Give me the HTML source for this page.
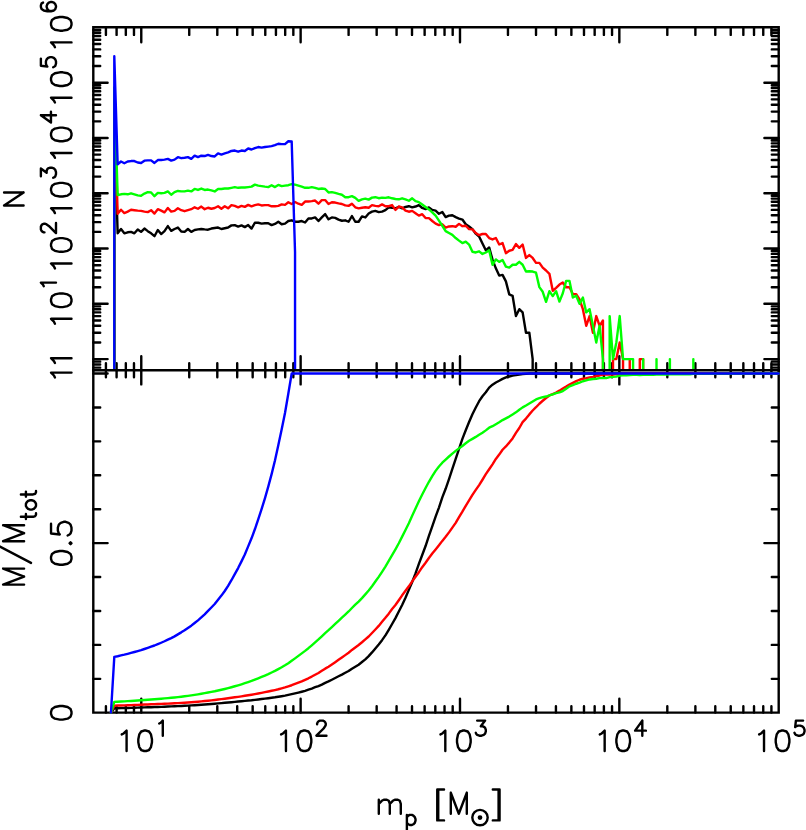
<!DOCTYPE html>
<html><head><meta charset="utf-8"><title>plot</title>
<style>html,body{margin:0;padding:0;background:#fff;font-family:"Liberation Sans",sans-serif}svg{display:block}</style></head>
<body>
<svg width="806" height="830" viewBox="0 0 806 830">
<rect width="806" height="830" fill="#fff"/>
<defs><clipPath id="ct"><rect x="93.30" y="27.30" width="685.40" height="341.70"/></clipPath>
<clipPath id="cb"><rect x="91.30" y="371.40" width="689.40" height="342.40"/></clipPath></defs>
<path fill="none" stroke="#000" stroke-width="2.4" stroke-linecap="square" d="M93.30 370.20 V712.60 H778.70 V370.20"/>
<path fill="none" stroke="#000" stroke-width="2.40" stroke-linecap="round" d="M105.92 712.60 V706.20 M116.59 712.60 V706.20 M125.83 712.60 V706.20 M133.98 712.60 V706.20 M141.27 712.60 V698.70 M189.24 712.60 V706.20 M217.30 712.60 V706.20 M237.21 712.60 V706.20 M252.66 712.60 V706.20 M265.28 712.60 V706.20 M275.94 712.60 V706.20 M285.19 712.60 V706.20 M293.34 712.60 V706.20 M300.63 712.60 V698.70 M348.60 712.60 V706.20 M376.66 712.60 V706.20 M396.57 712.60 V706.20 M412.01 712.60 V706.20 M424.63 712.60 V706.20 M435.30 712.60 V706.20 M444.54 712.60 V706.20 M452.69 712.60 V706.20 M459.99 712.60 V698.70 M507.96 712.60 V706.20 M536.02 712.60 V706.20 M555.93 712.60 V706.20 M571.37 712.60 V706.20 M583.99 712.60 V706.20 M594.66 712.60 V706.20 M603.90 712.60 V706.20 M612.05 712.60 V706.20 M619.34 712.60 V698.70 M667.31 712.60 V706.20 M695.38 712.60 V706.20 M715.29 712.60 V706.20 M730.73 712.60 V706.20 M743.35 712.60 V706.20 M754.02 712.60 V706.20 M763.26 712.60 V706.20 M771.41 712.60 V706.20 "/>
<path fill="none" stroke="#000" stroke-width="2.40" stroke-linecap="round" d="M93.30 678.83 H100.20 M778.70 678.83 H771.80 M93.30 644.90 H100.20 M778.70 644.90 H771.80 M93.30 610.98 H100.20 M778.70 610.98 H771.80 M93.30 577.05 H100.20 M778.70 577.05 H771.80 M93.30 543.12 H107.60 M778.70 543.12 H764.40 M93.30 509.20 H100.20 M778.70 509.20 H771.80 M93.30 475.27 H100.20 M778.70 475.27 H771.80 M93.30 441.35 H100.20 M778.70 441.35 H771.80 M93.30 407.43 H100.20 M778.70 407.43 H771.80 M93.30 373.50 H107.60 M778.70 373.50 H764.40 "/>
<path fill="none" stroke="#000" stroke-width="2.40" stroke-linecap="round" d="M105.92 370.20 V377.30 M116.59 370.20 V377.30 M125.83 370.20 V377.30 M133.98 370.20 V377.30 M141.27 370.20 V384.40 M189.24 370.20 V377.30 M217.30 370.20 V377.30 M237.21 370.20 V377.30 M252.66 370.20 V377.30 M265.28 370.20 V377.30 M275.94 370.20 V377.30 M285.19 370.20 V377.30 M293.34 370.20 V377.30 M300.63 370.20 V384.40 M348.60 370.20 V377.30 M376.66 370.20 V377.30 M396.57 370.20 V377.30 M412.01 370.20 V377.30 M424.63 370.20 V377.30 M435.30 370.20 V377.30 M444.54 370.20 V377.30 M452.69 370.20 V377.30 M459.99 370.20 V384.40 M507.96 370.20 V377.30 M536.02 370.20 V377.30 M555.93 370.20 V377.30 M571.37 370.20 V377.30 M583.99 370.20 V377.30 M594.66 370.20 V377.30 M603.90 370.20 V377.30 M612.05 370.20 V377.30 M619.34 370.20 V384.40 M667.31 370.20 V377.30 M695.38 370.20 V377.30 M715.29 370.20 V377.30 M730.73 370.20 V377.30 M743.35 370.20 V377.30 M754.02 370.20 V377.30 M763.26 370.20 V377.30 M771.41 370.20 V377.30 "/>
<path fill="none" stroke="#000" stroke-width="2.4" stroke-linecap="square" d="M93.30 370.20 H778.70"/>
<g clip-path="url(#cb)">
<path fill="none" stroke-width="2.40" stroke-linejoin="round" stroke-linecap="round" stroke="#000" d="M110.95 712.75 L114.30 708.30 L117.65 708.22 L120.99 708.13 L124.34 708.04 L127.69 707.95 L131.03 707.85 L134.38 707.74 L137.73 707.63 L141.08 707.52 L144.42 707.40 L147.77 707.29 L151.12 707.18 L154.46 707.07 L157.81 706.95 L161.16 706.84 L164.50 706.71 L167.85 706.56 L171.20 706.42 L174.55 706.27 L177.89 706.10 L181.24 705.94 L184.59 705.77 L187.93 705.58 L191.28 705.39 L194.63 705.19 L197.97 704.96 L201.32 704.73 L204.67 704.48 L208.02 704.23 L211.36 703.96 L214.71 703.68 L218.06 703.39 L221.40 703.11 L224.75 702.82 L228.10 702.53 L231.44 702.20 L234.79 701.87 L238.14 701.55 L241.49 701.22 L244.83 700.91 L248.18 700.56 L251.53 700.26 L254.87 699.87 L258.22 699.46 L261.57 699.06 L264.92 698.64 L268.26 698.19 L271.61 697.77 L274.96 697.30 L278.30 696.75 L281.65 696.22 L285.00 695.65 L288.34 694.95 L291.69 694.19 L295.04 693.42 L298.38 692.61 L301.73 691.72 L305.08 690.82 L308.43 689.70 L311.77 688.52 L315.12 687.22 L318.47 686.04 L321.81 684.59 L325.16 682.85 L328.51 681.37 L331.86 679.70 L335.20 677.97 L338.55 676.28 L341.90 674.60 L345.24 672.80 L348.59 671.03 L351.94 668.68 L355.28 666.74 L358.63 664.71 L361.98 662.06 L365.32 659.40 L368.67 656.12 L372.02 652.41 L375.37 648.40 L378.71 644.40 L382.06 640.14 L385.41 635.39 L388.75 629.79 L392.10 623.99 L395.45 618.09 L398.80 611.51 L402.14 605.01 L405.49 597.76 L408.84 589.90 L412.18 582.04 L415.53 573.46 L418.88 563.88 L422.22 554.96 L425.57 546.02 L428.92 535.92 L432.26 526.34 L435.61 516.57 L438.96 507.58 L442.31 497.42 L445.65 488.78 L449.00 479.14 L452.35 468.82 L455.69 458.80 L459.04 448.89 L462.39 438.91 L465.74 430.31 L469.08 422.05 L472.43 414.26 L475.78 407.50 L479.12 401.20 L482.47 396.23 L485.82 392.28 L489.16 387.61 L492.51 384.64 L495.86 382.45 L499.20 380.74 L502.55 378.89 L505.90 377.40 L509.25 376.48 L512.59 375.57 L515.94 375.14 L519.29 374.56 L522.63 374.04 L525.98 373.79 L529.33 373.54 L532.67 373.50 L778.70 373.50"/>
<path fill="none" stroke-width="2.40" stroke-linejoin="round" stroke-linecap="round" stroke="#f00" d="M110.95 712.75 L114.30 705.63 L117.65 705.54 L120.99 705.43 L124.34 705.33 L127.69 705.21 L131.03 705.09 L134.38 704.96 L137.73 704.83 L141.08 704.69 L144.42 704.56 L147.77 704.43 L151.12 704.29 L154.46 704.17 L157.81 704.02 L161.16 703.88 L164.50 703.75 L167.85 703.59 L171.20 703.45 L174.55 703.29 L177.89 703.11 L181.24 702.92 L184.59 702.73 L187.93 702.52 L191.28 702.27 L194.63 701.99 L197.97 701.71 L201.32 701.38 L204.67 701.06 L208.02 700.70 L211.36 700.35 L214.71 699.96 L218.06 699.54 L221.40 699.15 L224.75 698.70 L228.10 698.28 L231.44 697.79 L234.79 697.30 L238.14 696.83 L241.49 696.32 L244.83 695.81 L248.18 695.25 L251.53 694.70 L254.87 694.11 L258.22 693.47 L261.57 692.84 L264.92 692.18 L268.26 691.48 L271.61 690.79 L274.96 690.06 L278.30 689.27 L281.65 688.38 L285.00 687.44 L288.34 686.33 L291.69 685.24 L295.04 683.97 L298.38 682.72 L301.73 681.46 L305.08 679.93 L308.43 678.31 L311.77 676.57 L315.12 674.70 L318.47 672.97 L321.81 670.86 L325.16 668.65 L328.51 666.68 L331.86 664.45 L335.20 662.15 L338.55 659.83 L341.90 657.45 L345.24 655.11 L348.59 652.70 L351.94 649.94 L355.28 647.45 L358.63 644.96 L361.98 642.28 L365.32 639.42 L368.67 636.48 L372.02 633.03 L375.37 629.52 L378.71 625.91 L382.06 621.80 L385.41 617.82 L388.75 613.63 L392.10 609.00 L395.45 605.03 L398.80 600.21 L402.14 595.33 L405.49 590.84 L408.84 586.33 L412.18 581.40 L415.53 576.69 L418.88 572.20 L422.22 567.19 L425.57 562.71 L428.92 557.99 L432.26 553.59 L435.61 549.44 L438.96 545.33 L442.31 540.90 L445.65 536.84 L449.00 532.38 L452.35 527.65 L455.69 522.81 L459.04 517.09 L462.39 511.63 L465.74 505.79 L469.08 500.45 L472.43 494.91 L475.78 489.89 L479.12 485.07 L482.47 479.76 L485.82 474.20 L489.16 469.25 L492.51 464.36 L495.86 458.93 L499.20 454.57 L502.55 449.75 L505.90 446.42 L509.25 442.59 L512.59 438.44 L515.94 432.93 L519.29 428.00 L522.63 422.07 L525.98 418.55 L529.33 414.38 L532.67 410.51 L536.02 407.22 L539.37 403.75 L542.72 400.77 L546.06 397.99 L549.41 395.44 L552.76 394.13 L556.10 392.55 L559.45 390.63 L562.80 388.42 L566.14 386.50 L569.49 384.47 L572.84 382.87 L576.19 381.19 L579.53 379.77 L582.88 378.76 L586.23 378.23 L589.57 377.40 L592.92 376.96 L596.27 376.07 L599.62 375.45 L602.96 374.64 L606.31 374.65 L609.66 374.66 L613.00 374.49 L616.35 374.31 L619.70 373.92 L623.04 373.73 L626.39 373.75 L629.74 373.54 L633.08 373.57 L636.43 373.60 L639.78 373.50 L643.13 373.50 L778.70 373.50"/>
<path fill="none" stroke-width="2.40" stroke-linejoin="round" stroke-linecap="round" stroke="#0f0" d="M110.95 712.75 L114.30 701.92 L117.65 701.75 L120.99 701.56 L124.34 701.37 L127.69 701.17 L131.03 700.95 L134.38 700.73 L137.73 700.52 L141.08 700.29 L144.42 700.05 L147.77 699.78 L151.12 699.52 L154.46 699.27 L157.81 699.00 L161.16 698.71 L164.50 698.42 L167.85 698.09 L171.20 697.80 L174.55 697.45 L177.89 697.08 L181.24 696.69 L184.59 696.29 L187.93 695.85 L191.28 695.39 L194.63 694.87 L197.97 694.34 L201.32 693.75 L204.67 693.17 L208.02 692.54 L211.36 691.91 L214.71 691.27 L218.06 690.54 L221.40 689.78 L224.75 688.97 L228.10 688.13 L231.44 687.23 L234.79 686.27 L238.14 685.29 L241.49 684.28 L244.83 683.22 L248.18 682.11 L251.53 680.93 L254.87 679.59 L258.22 678.27 L261.57 676.91 L264.92 675.53 L268.26 674.11 L271.61 672.49 L274.96 670.92 L278.30 669.09 L281.65 667.26 L285.00 665.28 L288.34 663.15 L291.69 660.80 L295.04 658.36 L298.38 655.88 L301.73 653.38 L305.08 650.86 L308.43 648.20 L311.77 645.33 L315.12 642.39 L318.47 639.46 L321.81 636.33 L325.16 633.10 L328.51 630.18 L331.86 627.09 L335.20 623.94 L338.55 620.79 L341.90 617.61 L345.24 614.61 L348.59 611.47 L351.94 608.03 L355.28 604.68 L358.63 601.57 L361.98 598.10 L365.32 594.33 L368.67 590.54 L372.02 586.20 L375.37 581.55 L378.71 576.86 L382.06 571.81 L385.41 566.56 L388.75 560.88 L392.10 555.16 L395.45 549.33 L398.80 543.27 L402.14 536.63 L405.49 529.95 L408.84 523.33 L412.18 515.65 L415.53 508.50 L418.88 501.30 L422.22 494.45 L425.57 487.95 L428.92 481.80 L432.26 476.09 L435.61 470.87 L438.96 466.44 L442.31 462.69 L445.65 459.55 L449.00 456.51 L452.35 453.57 L455.69 450.88 L459.04 448.34 L462.39 445.95 L465.74 443.28 L469.08 440.79 L472.43 438.86 L475.78 436.90 L479.12 434.72 L482.47 432.67 L485.82 430.37 L489.16 427.71 L492.51 426.18 L495.86 424.17 L499.20 422.25 L502.55 420.07 L505.90 418.33 L509.25 416.57 L512.59 414.50 L515.94 412.33 L519.29 409.76 L522.63 407.38 L525.98 405.50 L529.33 403.51 L532.67 401.45 L536.02 399.40 L539.37 398.22 L542.72 397.21 L546.06 396.52 L549.41 395.38 L552.76 394.40 L556.10 393.14 L559.45 392.29 L562.80 391.01 L566.14 388.76 L569.49 386.39 L572.84 385.15 L576.19 383.74 L579.53 382.69 L582.88 381.25 L586.23 380.44 L589.57 379.47 L592.92 378.96 L596.27 378.70 L599.62 378.15 L602.96 378.01 L606.31 378.03 L609.66 377.08 L613.00 376.93 L616.35 376.61 L619.70 375.52 L623.04 375.36 L626.39 375.21 L629.74 375.04 L633.08 374.87 L636.43 374.92 L639.78 374.97 L643.13 374.76 L646.47 374.80 L649.82 374.84 L653.17 374.88 L656.51 374.59 L659.86 374.62 L663.21 374.64 L666.55 374.66 L669.90 374.30 L673.25 374.32 L676.60 374.34 L679.94 374.35 L683.29 374.37 L686.64 374.39 L689.98 374.41 L693.33 373.88 L778.70 373.50"/>
<path fill="none" stroke-width="2.40" stroke-linejoin="round" stroke-linecap="round" stroke="#00f" d="M110.95 712.75 L114.30 656.88 L117.65 656.23 L120.99 655.45 L124.34 654.69 L127.69 653.85 L131.03 652.94 L134.38 652.00 L137.73 651.07 L141.08 650.11 L144.42 649.01 L147.77 647.85 L151.12 646.63 L154.46 645.49 L157.81 644.15 L161.16 642.74 L164.50 641.25 L167.85 639.63 L171.20 638.06 L174.55 636.35 L177.89 634.35 L181.24 632.35 L184.59 630.22 L187.93 627.92 L191.28 625.68 L194.63 622.99 L197.97 620.34 L201.32 617.37 L204.67 614.30 L208.02 610.90 L211.36 607.50 L214.71 604.00 L218.06 599.80 L221.40 595.61 L224.75 590.98 L228.10 585.90 L231.44 580.22 L234.79 574.15 L238.14 568.07 L241.49 561.37 L244.83 554.46 L248.18 546.41 L251.53 538.30 L254.87 529.26 L258.22 519.36 L261.57 509.21 L264.92 498.29 L268.26 486.61 L271.61 474.13 L274.96 460.47 L278.30 445.24 L281.65 429.54 L285.00 413.05 L288.34 393.54 L291.69 373.50 L295.04 373.50 L778.70 373.50"/>
</g>
<path fill="none" stroke="#000" stroke-width="2.4" stroke-linecap="square" d="M93.30 370.20 V27.30 H778.70 V370.20"/>
<path fill="none" stroke="#000" stroke-width="2.40" stroke-linecap="round" d="M105.92 27.30 V34.90 M116.59 27.30 V34.90 M125.83 27.30 V34.90 M133.98 27.30 V34.90 M141.27 27.30 V42.30 M189.24 27.30 V34.90 M217.30 27.30 V34.90 M237.21 27.30 V34.90 M252.66 27.30 V34.90 M265.28 27.30 V34.90 M275.94 27.30 V34.90 M285.19 27.30 V34.90 M293.34 27.30 V34.90 M300.63 27.30 V42.30 M348.60 27.30 V34.90 M376.66 27.30 V34.90 M396.57 27.30 V34.90 M412.01 27.30 V34.90 M424.63 27.30 V34.90 M435.30 27.30 V34.90 M444.54 27.30 V34.90 M452.69 27.30 V34.90 M459.99 27.30 V42.30 M507.96 27.30 V34.90 M536.02 27.30 V34.90 M555.93 27.30 V34.90 M571.37 27.30 V34.90 M583.99 27.30 V34.90 M594.66 27.30 V34.90 M603.90 27.30 V34.90 M612.05 27.30 V34.90 M619.34 27.30 V42.30 M667.31 27.30 V34.90 M695.38 27.30 V34.90 M715.29 27.30 V34.90 M730.73 27.30 V34.90 M743.35 27.30 V34.90 M754.02 27.30 V34.90 M763.26 27.30 V34.90 M771.41 27.30 V34.90 "/>
<path fill="none" stroke="#000" stroke-width="2.40" stroke-linecap="round" d="M105.92 370.20 V363.30 M116.59 370.20 V363.30 M125.83 370.20 V363.30 M133.98 370.20 V363.30 M141.27 370.20 V356.20 M189.24 370.20 V363.30 M217.30 370.20 V363.30 M237.21 370.20 V363.30 M252.66 370.20 V363.30 M265.28 370.20 V363.30 M275.94 370.20 V363.30 M285.19 370.20 V363.30 M293.34 370.20 V363.30 M300.63 370.20 V356.20 M348.60 370.20 V363.30 M376.66 370.20 V363.30 M396.57 370.20 V363.30 M412.01 370.20 V363.30 M424.63 370.20 V363.30 M435.30 370.20 V363.30 M444.54 370.20 V363.30 M452.69 370.20 V363.30 M459.99 370.20 V356.20 M507.96 370.20 V363.30 M536.02 370.20 V363.30 M555.93 370.20 V363.30 M571.37 370.20 V363.30 M583.99 370.20 V363.30 M594.66 370.20 V363.30 M603.90 370.20 V363.30 M612.05 370.20 V363.30 M619.34 370.20 V356.20 M667.31 370.20 V363.30 M695.38 370.20 V363.30 M715.29 370.20 V363.30 M730.73 370.20 V363.30 M743.35 370.20 V363.30 M754.02 370.20 V363.30 M763.26 370.20 V363.30 M771.41 370.20 V363.30 "/>
<path fill="none" stroke="#000" stroke-width="2.40" stroke-linecap="round" d="M93.30 367.66 H100.20 M778.70 367.66 H771.80 M93.30 364.46 H100.20 M778.70 364.46 H771.80 M93.30 361.63 H100.20 M778.70 361.63 H771.80 M93.30 359.10 H107.60 M778.70 359.10 H764.40 M93.30 342.46 H100.20 M778.70 342.46 H771.80 M93.30 332.72 H100.20 M778.70 332.72 H771.80 M93.30 325.82 H100.20 M778.70 325.82 H771.80 M93.30 320.46 H100.20 M778.70 320.46 H771.80 M93.30 316.08 H100.20 M778.70 316.08 H771.80 M93.30 312.38 H100.20 M778.70 312.38 H771.80 M93.30 309.18 H100.20 M778.70 309.18 H771.80 M93.30 306.35 H100.20 M778.70 306.35 H771.80 M93.30 303.82 H107.60 M778.70 303.82 H764.40 M93.30 287.18 H100.20 M778.70 287.18 H771.80 M93.30 277.44 H100.20 M778.70 277.44 H771.80 M93.30 270.54 H100.20 M778.70 270.54 H771.80 M93.30 265.18 H100.20 M778.70 265.18 H771.80 M93.30 260.80 H100.20 M778.70 260.80 H771.80 M93.30 257.10 H100.20 M778.70 257.10 H771.80 M93.30 253.90 H100.20 M778.70 253.90 H771.80 M93.30 251.07 H100.20 M778.70 251.07 H771.80 M93.30 248.54 H107.60 M778.70 248.54 H764.40 M93.30 231.90 H100.20 M778.70 231.90 H771.80 M93.30 222.16 H100.20 M778.70 222.16 H771.80 M93.30 215.26 H100.20 M778.70 215.26 H771.80 M93.30 209.90 H100.20 M778.70 209.90 H771.80 M93.30 205.52 H100.20 M778.70 205.52 H771.80 M93.30 201.82 H100.20 M778.70 201.82 H771.80 M93.30 198.62 H100.20 M778.70 198.62 H771.80 M93.30 195.79 H100.20 M778.70 195.79 H771.80 M93.30 193.26 H107.60 M778.70 193.26 H764.40 M93.30 176.62 H100.20 M778.70 176.62 H771.80 M93.30 166.88 H100.20 M778.70 166.88 H771.80 M93.30 159.98 H100.20 M778.70 159.98 H771.80 M93.30 154.62 H100.20 M778.70 154.62 H771.80 M93.30 150.24 H100.20 M778.70 150.24 H771.80 M93.30 146.54 H100.20 M778.70 146.54 H771.80 M93.30 143.34 H100.20 M778.70 143.34 H771.80 M93.30 140.51 H100.20 M778.70 140.51 H771.80 M93.30 137.98 H107.60 M778.70 137.98 H764.40 M93.30 121.34 H100.20 M778.70 121.34 H771.80 M93.30 111.60 H100.20 M778.70 111.60 H771.80 M93.30 104.70 H100.20 M778.70 104.70 H771.80 M93.30 99.34 H100.20 M778.70 99.34 H771.80 M93.30 94.96 H100.20 M778.70 94.96 H771.80 M93.30 91.26 H100.20 M778.70 91.26 H771.80 M93.30 88.06 H100.20 M778.70 88.06 H771.80 M93.30 85.23 H100.20 M778.70 85.23 H771.80 M93.30 82.70 H107.60 M778.70 82.70 H764.40 M93.30 66.06 H100.20 M778.70 66.06 H771.80 M93.30 56.32 H100.20 M778.70 56.32 H771.80 M93.30 49.42 H100.20 M778.70 49.42 H771.80 M93.30 44.06 H100.20 M778.70 44.06 H771.80 M93.30 39.68 H100.20 M778.70 39.68 H771.80 M93.30 35.98 H100.20 M778.70 35.98 H771.80 M93.30 32.78 H100.20 M778.70 32.78 H771.80 M93.30 29.95 H100.20 M778.70 29.95 H771.80 "/>
<g clip-path="url(#ct)">
<path fill="none" stroke-width="2.40" stroke-linejoin="round" stroke-linecap="round" stroke="#000" d=" M114.30 385.00 L114.30 119.20 L117.65 233.32 L120.99 228.99 L124.34 233.32 L127.69 232.31 L131.03 231.88 L134.38 233.32 L137.73 229.42 L141.08 231.88 L144.42 228.55 L147.77 231.16 L151.12 233.32 L154.46 236.21 L157.81 230.00 L161.16 234.05 L164.50 231.16 L167.85 226.10 L171.20 230.87 L174.55 228.99 L177.89 227.54 L181.24 231.45 L184.59 231.88 L187.93 228.99 L191.28 231.88 L194.63 230.00 L197.97 229.42 L201.32 228.99 L204.67 229.42 L208.02 229.71 L211.36 228.55 L214.71 227.98 L218.06 227.54 L221.40 228.99 L224.75 228.27 L228.10 227.54 L231.44 225.38 L234.79 225.09 L238.14 226.53 L241.49 225.38 L244.83 227.11 L248.18 225.09 L251.53 228.55 L254.87 222.77 L258.22 222.77 L261.57 223.64 L264.92 223.21 L268.26 223.21 L271.61 225.09 L274.96 223.93 L278.30 221.76 L281.65 224.22 L285.00 223.64 L288.34 221.04 L291.69 220.32 L295.04 221.76 L298.38 221.76 L301.73 221.04 L305.08 222.49 L308.43 218.44 L311.77 218.44 L315.12 217.43 L318.47 221.04 L321.81 217.43 L325.16 214.10 L328.51 219.31 L331.86 217.43 L335.20 217.86 L338.55 219.60 L341.90 220.75 L345.24 220.32 L348.59 221.76 L351.94 215.98 L355.28 221.76 L358.63 221.76 L361.98 216.42 L365.32 217.43 L368.67 213.53 L372.02 211.65 L375.37 210.92 L378.71 212.08 L382.06 211.65 L385.41 210.20 L388.75 207.40 L392.10 207.69 L395.45 208.41 L398.80 206.97 L402.14 208.41 L405.49 206.97 L408.84 206.24 L412.18 207.40 L415.53 206.53 L418.88 205.09 L422.22 207.98 L425.57 209.13 L428.92 207.40 L432.26 209.86 L435.61 210.58 L438.96 213.76 L442.31 212.02 L445.65 217.08 L449.00 215.64 L452.35 215.20 L455.69 217.08 L459.04 218.53 L462.39 219.54 L465.74 224.31 L469.08 226.47 L472.43 229.08 L475.78 233.70 L479.12 236.59 L482.47 243.53 L485.82 250.32 L489.16 247.43 L492.51 259.68 L495.86 268.35 L499.20 275.58 L502.55 274.86 L505.90 281.36 L509.25 294.36 L512.59 295.81 L515.94 316.08 L519.29 309.18 L522.63 312.38 L525.98 332.72 L529.33 332.72 L532.67 359.10 L532.67 385.00"/>
<path fill="none" stroke-width="2.40" stroke-linejoin="round" stroke-linecap="round" stroke="#f00" d=" M114.30 385.00 L114.30 99.70 L117.65 213.82 L120.99 209.77 L124.34 213.09 L127.69 211.65 L131.03 209.77 L134.38 210.20 L137.73 210.64 L141.08 210.92 L144.42 211.65 L147.77 212.08 L151.12 210.20 L154.46 213.53 L157.81 209.19 L161.16 210.64 L164.50 212.37 L167.85 208.03 L171.20 211.65 L174.55 210.92 L177.89 208.32 L181.24 210.20 L184.59 211.21 L187.93 210.20 L191.28 209.19 L194.63 207.31 L197.97 208.76 L201.32 206.59 L204.67 209.19 L208.02 207.75 L211.36 208.76 L214.71 208.03 L218.06 206.30 L221.40 208.76 L224.75 206.30 L228.10 208.32 L231.44 205.14 L234.79 205.87 L238.14 207.31 L241.49 205.87 L244.83 206.88 L248.18 204.86 L251.53 206.30 L254.87 205.14 L258.22 204.42 L261.57 205.43 L264.92 205.14 L268.26 205.14 L271.61 206.30 L274.96 206.30 L278.30 205.87 L281.65 204.42 L285.00 204.86 L288.34 202.25 L291.69 203.99 L295.04 201.97 L298.38 203.70 L301.73 204.86 L305.08 201.53 L308.43 201.53 L311.77 201.10 L315.12 200.52 L318.47 203.70 L321.81 200.09 L325.16 200.09 L328.51 203.99 L331.86 202.25 L335.20 202.54 L338.55 203.41 L341.90 203.99 L345.24 205.43 L348.59 205.87 L351.94 203.70 L355.28 207.31 L358.63 208.32 L361.98 207.75 L365.32 207.31 L368.67 207.75 L372.02 205.14 L375.37 205.87 L378.71 206.30 L382.06 204.42 L385.41 206.30 L388.75 206.24 L392.10 205.09 L395.45 209.86 L398.80 206.53 L402.14 207.40 L405.49 210.58 L408.84 211.73 L412.18 210.87 L415.53 213.18 L418.88 215.64 L422.22 214.19 L425.57 218.09 L428.92 218.09 L432.26 220.98 L435.61 223.58 L438.96 225.03 L442.31 224.31 L445.65 227.63 L449.00 226.47 L452.35 226.18 L455.69 226.76 L459.04 223.87 L462.39 226.18 L465.74 225.75 L469.08 229.08 L472.43 229.36 L475.78 232.98 L479.12 235.14 L482.47 233.99 L485.82 233.99 L489.16 238.03 L492.51 239.45 L495.86 238.01 L499.20 244.51 L502.55 243.06 L505.90 253.18 L509.25 250.72 L512.59 249.86 L515.94 244.08 L519.29 247.83 L522.63 244.51 L525.98 257.95 L529.33 255.06 L532.67 257.95 L536.02 262.86 L539.37 262.86 L542.72 267.63 L546.06 270.52 L549.41 273.84 L552.76 290.75 L556.10 287.86 L559.45 284.54 L562.80 282.51 L566.14 287.18 L569.49 287.18 L572.84 294.09 L576.19 294.09 L579.53 299.44 L582.88 309.18 L586.23 325.82 L589.57 316.08 L592.92 332.72 L596.27 316.08 L599.62 325.82 L602.96 320.46 L602.96 385.00 M613.00 385.00 L613.00 359.10 L616.35 359.10 L619.70 342.46 L623.04 359.10 L623.04 385.00 M629.74 385.00 L629.74 359.10 L629.74 385.00 M639.78 385.00 L639.78 359.10 L643.13 359.10 L643.13 385.00"/>
<path fill="none" stroke-width="2.40" stroke-linejoin="round" stroke-linecap="round" stroke="#0f0" d=" M114.30 385.00 L114.30 87.40 L117.65 195.03 L120.99 194.31 L124.34 193.87 L127.69 194.31 L131.03 193.29 L134.38 194.31 L137.73 195.32 L141.08 195.75 L144.42 193.58 L147.77 192.14 L151.12 192.43 L154.46 196.18 L157.81 192.86 L161.16 193.29 L164.50 192.86 L167.85 191.42 L171.20 194.74 L174.55 192.14 L177.89 190.98 L181.24 191.42 L184.59 191.42 L187.93 190.69 L191.28 191.42 L194.63 188.96 L197.97 189.97 L201.32 188.53 L204.67 189.97 L208.02 189.54 L211.36 190.40 L214.71 191.42 L218.06 188.96 L221.40 188.96 L224.75 188.53 L228.10 188.53 L231.44 187.80 L234.79 187.08 L238.14 187.80 L241.49 187.51 L244.83 187.51 L248.18 187.08 L251.53 186.65 L254.87 184.62 L258.22 185.64 L261.57 186.07 L264.92 186.65 L268.26 187.08 L271.61 185.20 L274.96 187.08 L278.30 184.91 L281.65 186.07 L285.00 185.64 L288.34 185.20 L291.69 184.19 L295.04 184.62 L298.38 185.64 L301.73 186.65 L305.08 187.80 L308.43 187.80 L311.77 187.08 L315.12 187.80 L318.47 188.96 L321.81 188.53 L325.16 188.96 L328.51 192.43 L331.86 192.14 L335.20 192.86 L338.55 193.87 L341.90 194.74 L345.24 197.20 L348.59 197.20 L351.94 196.18 L355.28 197.92 L358.63 200.81 L361.98 199.36 L365.32 198.64 L368.67 199.65 L372.02 197.63 L375.37 197.20 L378.71 198.21 L382.06 197.63 L385.41 197.92 L388.75 197.28 L392.10 198.29 L395.45 199.02 L398.80 199.31 L402.14 198.29 L405.49 199.31 L408.84 200.75 L412.18 198.29 L415.53 201.18 L418.88 202.20 L422.22 204.51 L425.57 206.97 L428.92 209.42 L432.26 212.31 L435.61 215.64 L438.96 220.69 L442.31 225.75 L445.65 231.10 L449.00 232.98 L452.35 234.86 L455.69 238.03 L459.04 240.64 L462.39 243.09 L465.74 241.65 L469.08 244.54 L472.43 251.76 L475.78 252.49 L479.12 251.33 L482.47 253.93 L485.82 252.49 L489.16 250.32 L492.51 264.74 L495.86 259.39 L499.20 261.85 L502.55 259.97 L505.90 266.62 L509.25 267.63 L512.59 264.74 L515.94 264.74 L519.29 261.85 L522.63 264.74 L525.98 271.53 L529.33 271.24 L532.67 271.53 L536.02 272.69 L539.37 287.14 L542.72 291.76 L546.06 301.88 L549.41 291.18 L552.76 296.10 L556.10 291.18 L559.45 301.59 L562.80 293.21 L566.14 280.88 L569.49 280.88 L572.84 297.52 L576.19 295.74 L579.53 303.82 L582.88 297.52 L586.23 312.38 L589.57 309.18 L592.92 325.82 L596.27 342.46 L599.62 325.82 L602.96 359.10 L602.96 385.00 M609.66 385.00 L609.66 316.08 L613.00 359.10 L616.35 342.46 L619.70 316.08 L623.04 359.10 L626.39 359.10 L629.74 359.10 L633.08 359.10 L633.08 385.00 M643.13 385.00 L643.13 359.10 L643.13 385.00 M656.51 385.00 L656.51 359.10 L656.51 385.00 M669.90 385.00 L669.90 359.10 L669.90 385.00 M693.33 385.00 L693.33 359.10 L693.33 385.00"/>
<path fill="none" stroke-width="2.40" stroke-linejoin="round" stroke-linecap="round" stroke="#00f" d=" M114.30 385.00 L114.30 56.30 L117.65 164.39 L120.99 161.50 L124.34 163.24 L127.69 161.50 L131.03 161.07 L134.38 161.07 L137.73 162.51 L141.08 162.95 L144.42 160.64 L147.77 160.35 L151.12 160.35 L154.46 162.95 L157.81 160.06 L161.16 160.06 L164.50 159.62 L167.85 158.90 L171.20 160.64 L174.55 159.62 L177.89 157.17 L181.24 158.18 L184.59 157.75 L187.93 157.17 L191.28 158.90 L194.63 155.72 L197.97 157.17 L201.32 155.72 L204.67 156.01 L208.02 154.86 L211.36 156.01 L214.71 156.45 L218.06 153.41 L221.40 154.57 L224.75 153.41 L228.10 152.40 L231.44 150.95 L234.79 150.52 L238.14 151.68 L241.49 150.52 L244.83 150.95 L248.18 148.50 L251.53 149.51 L254.87 148.06 L258.22 147.05 L261.57 147.63 L264.92 147.05 L268.26 146.62 L271.61 146.18 L274.96 145.17 L278.30 143.73 L281.65 144.16 L285.00 144.16 L288.34 141.27 L291.69 141.56 L295.04 252.00 L295.04 385.00"/>
</g>
<g fill="none" stroke="#000" stroke-width="2.40" stroke-linecap="round" stroke-linejoin="round">
<path transform="translate(115.87 751.00)" d="M5.85 -16.57 L7.80 -17.55 L10.72 -20.47 L10.72 0.00 M28.27 -20.47 L25.35 -19.50 L23.40 -16.57 L22.43 -11.70 L22.43 -8.78 L23.40 -3.90 L25.35 -0.97 L28.27 0.00 L30.23 0.00 L33.15 -0.97 L35.10 -3.90 L36.08 -8.78 L36.08 -11.70 L35.10 -16.57 L33.15 -19.50 L30.23 -20.47 L28.27 -20.47 M43.32 -27.54 L44.76 -28.26 L46.92 -30.42 L46.92 -15.30 "/>
<path transform="translate(275.23 751.00)" d="M5.85 -16.57 L7.80 -17.55 L10.72 -20.47 L10.72 0.00 M28.27 -20.47 L25.35 -19.50 L23.40 -16.57 L22.43 -11.70 L22.43 -8.78 L23.40 -3.90 L25.35 -0.97 L28.27 0.00 L30.23 0.00 L33.15 -0.97 L35.10 -3.90 L36.08 -8.78 L36.08 -11.70 L35.10 -16.57 L33.15 -19.50 L30.23 -20.47 L28.27 -20.47 M41.88 -26.82 L41.88 -27.54 L42.60 -28.98 L43.32 -29.70 L44.76 -30.42 L47.64 -30.42 L49.08 -29.70 L49.80 -28.98 L50.52 -27.54 L50.52 -26.10 L49.80 -24.66 L48.36 -22.50 L41.16 -15.30 L51.24 -15.30 "/>
<path transform="translate(434.59 751.00)" d="M5.85 -16.57 L7.80 -17.55 L10.72 -20.47 L10.72 0.00 M28.27 -20.47 L25.35 -19.50 L23.40 -16.57 L22.43 -11.70 L22.43 -8.78 L23.40 -3.90 L25.35 -0.97 L28.27 0.00 L30.23 0.00 L33.15 -0.97 L35.10 -3.90 L36.08 -8.78 L36.08 -11.70 L35.10 -16.57 L33.15 -19.50 L30.23 -20.47 L28.27 -20.47 M42.60 -30.42 L50.52 -30.42 L46.20 -24.66 L48.36 -24.66 L49.80 -23.94 L50.52 -23.22 L51.24 -21.06 L51.24 -19.62 L50.52 -17.46 L49.08 -16.02 L46.92 -15.30 L44.76 -15.30 L42.60 -16.02 L41.88 -16.74 L41.16 -18.18 "/>
<path transform="translate(593.94 751.00)" d="M5.85 -16.57 L7.80 -17.55 L10.72 -20.47 L10.72 0.00 M28.27 -20.47 L25.35 -19.50 L23.40 -16.57 L22.43 -11.70 L22.43 -8.78 L23.40 -3.90 L25.35 -0.97 L28.27 0.00 L30.23 0.00 L33.15 -0.97 L35.10 -3.90 L36.08 -8.78 L36.08 -11.70 L35.10 -16.57 L33.15 -19.50 L30.23 -20.47 L28.27 -20.47 M48.36 -30.42 L41.16 -20.34 L51.96 -20.34 M48.36 -30.42 L48.36 -15.30 "/>
<path transform="translate(753.30 751.00)" d="M5.85 -16.57 L7.80 -17.55 L10.72 -20.47 L10.72 0.00 M28.27 -20.47 L25.35 -19.50 L23.40 -16.57 L22.43 -11.70 L22.43 -8.78 L23.40 -3.90 L25.35 -0.97 L28.27 0.00 L30.23 0.00 L33.15 -0.97 L35.10 -3.90 L36.08 -8.78 L36.08 -11.70 L35.10 -16.57 L33.15 -19.50 L30.23 -20.47 L28.27 -20.47 M49.80 -30.42 L42.60 -30.42 L41.88 -23.94 L42.60 -24.66 L44.76 -25.38 L46.92 -25.38 L49.08 -24.66 L50.52 -23.22 L51.24 -21.06 L51.24 -19.62 L50.52 -17.46 L49.08 -16.02 L46.92 -15.30 L44.76 -15.30 L42.60 -16.02 L41.88 -16.74 L41.16 -18.18 "/>
<path transform="translate(71.50 329.52) rotate(-90)" d="M5.85 -16.57 L7.80 -17.55 L10.72 -20.47 L10.72 0.00 M28.27 -20.47 L25.35 -19.50 L23.40 -16.57 L22.43 -11.70 L22.43 -8.78 L23.40 -3.90 L25.35 -0.97 L28.27 0.00 L30.23 0.00 L33.15 -0.97 L35.10 -3.90 L36.08 -8.78 L36.08 -11.70 L35.10 -16.57 L33.15 -19.50 L30.23 -20.47 L28.27 -20.47 M43.32 -27.74 L44.76 -28.46 L46.92 -30.62 L46.92 -15.50 "/>
<path transform="translate(71.50 274.24) rotate(-90)" d="M5.85 -16.57 L7.80 -17.55 L10.72 -20.47 L10.72 0.00 M28.27 -20.47 L25.35 -19.50 L23.40 -16.57 L22.43 -11.70 L22.43 -8.78 L23.40 -3.90 L25.35 -0.97 L28.27 0.00 L30.23 0.00 L33.15 -0.97 L35.10 -3.90 L36.08 -8.78 L36.08 -11.70 L35.10 -16.57 L33.15 -19.50 L30.23 -20.47 L28.27 -20.47 M41.88 -27.02 L41.88 -27.74 L42.60 -29.18 L43.32 -29.90 L44.76 -30.62 L47.64 -30.62 L49.08 -29.90 L49.80 -29.18 L50.52 -27.74 L50.52 -26.30 L49.80 -24.86 L48.36 -22.70 L41.16 -15.50 L51.24 -15.50 "/>
<path transform="translate(71.50 218.96) rotate(-90)" d="M5.85 -16.57 L7.80 -17.55 L10.72 -20.47 L10.72 0.00 M28.27 -20.47 L25.35 -19.50 L23.40 -16.57 L22.43 -11.70 L22.43 -8.78 L23.40 -3.90 L25.35 -0.97 L28.27 0.00 L30.23 0.00 L33.15 -0.97 L35.10 -3.90 L36.08 -8.78 L36.08 -11.70 L35.10 -16.57 L33.15 -19.50 L30.23 -20.47 L28.27 -20.47 M42.60 -30.62 L50.52 -30.62 L46.20 -24.86 L48.36 -24.86 L49.80 -24.14 L50.52 -23.42 L51.24 -21.26 L51.24 -19.82 L50.52 -17.66 L49.08 -16.22 L46.92 -15.50 L44.76 -15.50 L42.60 -16.22 L41.88 -16.94 L41.16 -18.38 "/>
<path transform="translate(71.50 163.68) rotate(-90)" d="M5.85 -16.57 L7.80 -17.55 L10.72 -20.47 L10.72 0.00 M28.27 -20.47 L25.35 -19.50 L23.40 -16.57 L22.43 -11.70 L22.43 -8.78 L23.40 -3.90 L25.35 -0.97 L28.27 0.00 L30.23 0.00 L33.15 -0.97 L35.10 -3.90 L36.08 -8.78 L36.08 -11.70 L35.10 -16.57 L33.15 -19.50 L30.23 -20.47 L28.27 -20.47 M48.36 -30.62 L41.16 -20.54 L51.96 -20.54 M48.36 -30.62 L48.36 -15.50 "/>
<path transform="translate(71.50 108.40) rotate(-90)" d="M5.85 -16.57 L7.80 -17.55 L10.72 -20.47 L10.72 0.00 M28.27 -20.47 L25.35 -19.50 L23.40 -16.57 L22.43 -11.70 L22.43 -8.78 L23.40 -3.90 L25.35 -0.97 L28.27 0.00 L30.23 0.00 L33.15 -0.97 L35.10 -3.90 L36.08 -8.78 L36.08 -11.70 L35.10 -16.57 L33.15 -19.50 L30.23 -20.47 L28.27 -20.47 M49.80 -30.62 L42.60 -30.62 L41.88 -24.14 L42.60 -24.86 L44.76 -25.58 L46.92 -25.58 L49.08 -24.86 L50.52 -23.42 L51.24 -21.26 L51.24 -19.82 L50.52 -17.66 L49.08 -16.22 L46.92 -15.50 L44.76 -15.50 L42.60 -16.22 L41.88 -16.94 L41.16 -18.38 "/>
<path transform="translate(71.50 53.12) rotate(-90)" d="M5.85 -16.57 L7.80 -17.55 L10.72 -20.47 L10.72 0.00 M28.27 -20.47 L25.35 -19.50 L23.40 -16.57 L22.43 -11.70 L22.43 -8.78 L23.40 -3.90 L25.35 -0.97 L28.27 0.00 L30.23 0.00 L33.15 -0.97 L35.10 -3.90 L36.08 -8.78 L36.08 -11.70 L35.10 -16.57 L33.15 -19.50 L30.23 -20.47 L28.27 -20.47 M50.52 -28.46 L49.80 -29.90 L47.64 -30.62 L46.20 -30.62 L44.04 -29.90 L42.60 -27.74 L41.88 -24.14 L41.88 -20.54 L42.60 -17.66 L44.04 -16.22 L46.20 -15.50 L46.92 -15.50 L49.08 -16.22 L50.52 -17.66 L51.24 -19.82 L51.24 -20.54 L50.52 -22.70 L49.08 -24.14 L46.92 -24.86 L46.20 -24.86 L44.04 -24.14 L42.60 -22.70 L41.88 -20.54 "/>
<path transform="translate(71.50 368.90) rotate(-90)" d="M5.85 -16.57 L7.80 -17.55 L10.72 -20.47 L10.72 0.00 "/>
<path transform="translate(71.50 383.30) rotate(-90)" d="M5.85 -16.57 L7.80 -17.55 L10.72 -20.47 L10.72 0.00 "/>
<path transform="translate(71.50 567.62) rotate(-90)" d="M8.78 -20.47 L5.85 -19.50 L3.90 -16.57 L2.92 -11.70 L2.92 -8.78 L3.90 -3.90 L5.85 -0.97 L8.78 0.00 L10.72 0.00 L13.65 -0.97 L15.60 -3.90 L16.57 -8.78 L16.57 -11.70 L15.60 -16.57 L13.65 -19.50 L10.72 -20.47 L8.78 -20.47 M24.38 -1.95 L23.40 -0.97 L24.38 0.00 L25.35 -0.97 L24.38 -1.95 M43.88 -20.47 L34.12 -20.47 L33.15 -11.70 L34.12 -12.67 L37.05 -13.65 L39.98 -13.65 L42.90 -12.67 L44.85 -10.72 L45.83 -7.80 L45.83 -5.85 L44.85 -2.92 L42.90 -0.97 L39.98 0.00 L37.05 0.00 L34.12 -0.97 L33.15 -1.95 L32.17 -3.90 "/>
<path transform="translate(71.50 722.55) rotate(-90)" d="M8.78 -20.47 L5.85 -19.50 L3.90 -16.57 L2.92 -11.70 L2.92 -8.78 L3.90 -3.90 L5.85 -0.97 L8.78 0.00 L10.72 0.00 L13.65 -0.97 L15.60 -3.90 L16.57 -8.78 L16.57 -11.70 L15.60 -16.57 L13.65 -19.50 L10.72 -20.47 L8.78 -20.47 "/>
<path transform="translate(23.60 209.20) rotate(-90)" d="M3.72 -19.53 L3.72 0.00 M3.72 -19.53 L16.74 0.00 M16.74 -19.53 L16.74 0.00 "/>
<path transform="translate(24.1 588.6) rotate(-90)" d="M4.00 -21.00 L4.00 0.00 M4.00 -21.00 L12.00 0.00 M20.00 -21.00 L12.00 0.00 M20.00 -21.00 L20.00 0.00 "/>
<path d="M31 562.9 L-1 546.1"/>
<path transform="translate(24.1 545.2) rotate(-90)" d="M4.00 -21.00 L4.00 0.00 M4.00 -21.00 L12.00 0.00 M20.00 -21.00 L12.00 0.00 M20.00 -21.00 L20.00 0.00 "/>
<path transform="translate(36 520.4) rotate(-90)" d="M3.60 -15.12 L3.60 -2.88 L4.32 -0.72 L5.76 0.00 L7.20 0.00 M1.44 -10.08 L6.48 -10.08 M14.40 -10.08 L12.96 -9.36 L11.52 -7.92 L10.80 -5.76 L10.80 -4.32 L11.52 -2.16 L12.96 -0.72 L14.40 0.00 L16.56 0.00 L18.00 -0.72 L19.44 -2.16 L20.16 -4.32 L20.16 -5.76 L19.44 -7.92 L18.00 -9.36 L16.56 -10.08 L14.40 -10.08 M25.92 -15.12 L25.92 -2.88 L26.64 -0.72 L28.08 0.00 L29.52 0.00 M23.76 -10.08 L28.80 -10.08 "/>
<path transform="translate(374.80 813.80)" d="M4.00 -14.00 L4.00 0.00 M4.00 -10.00 L7.00 -13.00 L9.00 -14.00 L12.00 -14.00 L14.00 -13.00 L15.00 -10.00 L15.00 0.00 M15.00 -10.00 L18.00 -13.00 L20.00 -14.00 L23.00 -14.00 L25.00 -13.00 L26.00 -10.00 L26.00 0.00 "/>
<path transform="translate(404.00 825.00)" d="M2.88 -10.08 L2.88 5.04 M2.88 -7.92 L4.32 -9.36 L5.76 -10.08 L7.92 -10.08 L9.36 -9.36 L10.80 -7.92 L11.52 -5.76 L11.52 -4.32 L10.80 -2.16 L9.36 -0.72 L7.92 0.00 L5.76 0.00 L4.32 -0.72 L2.88 -2.16 "/>
<path transform="translate(433.40 813.65)" d="M3.86 -24.15 L3.86 6.76 M4.83 -24.15 L4.83 6.76 M3.86 -24.15 L10.63 -24.15 M3.86 6.76 L10.63 6.76 "/>
<path transform="translate(446.80 813.80)" d="M4.00 -21.00 L4.00 0.00 M4.00 -21.00 L12.00 0.00 M20.00 -21.00 L12.00 0.00 M20.00 -21.00 L20.00 0.00 "/>
<circle cx="480" cy="817.6" r="7.7"/>
<circle cx="480" cy="817.6" r="1.2" fill="#000"/>
<path transform="translate(489.90 813.65)" d="M8.69 -24.15 L8.69 6.76 M9.66 -24.15 L9.66 6.76 M2.90 -24.15 L9.66 -24.15 M2.90 6.76 L9.66 6.76 "/>
</g>
</svg>
</body></html>
